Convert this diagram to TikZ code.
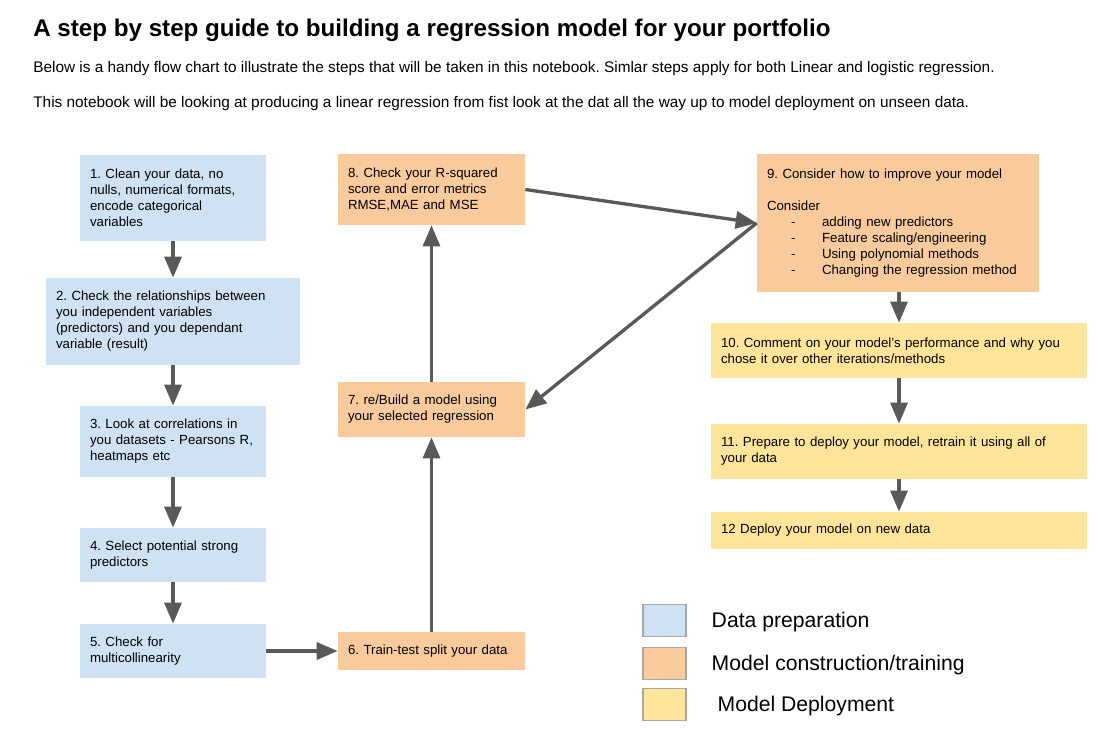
\documentclass[tikz,border=0pt]{standalone}
\usepackage{fontspec}
\setmainfont{Liberation Sans}
\usepackage{tikz}
\usetikzlibrary{arrows.meta,positioning}

\definecolor{prepblue}{HTML}{CFE2F3}
\definecolor{buildorange}{HTML}{F9CB9C}
\definecolor{deployyellow}{HTML}{FFE599}
\definecolor{flowgray}{HTML}{595959}
\newcommand{\improveitem}[1]{\\\hspace*{0.48cm}\makebox[0.62cm][l]{-}#1}
\frenchspacing

\begin{document}
\begin{tikzpicture}[x=0.02cm, y=-0.02cm,
  stepbox/.style = {shape = rectangle, inner xsep = 0.2cm, inner ysep = 0pt, align = left,
    font = \fontsize{7.55}{9.1}\selectfont},
  prepbox/.style = {stepbox, fill = prepblue},
  buildbox/.style = {stepbox, fill = buildorange},
  deploybox/.style = {stepbox, fill = deployyellow},
  flow/.style = {draw = flowgray, line width = 1.9pt, -{Triangle[length = 0.42cm, width = 0.34cm]}},
  keybox/.style = {draw = gray!70, line width = 0.6pt, minimum width = 0.86cm, minimum height = 0.64cm},
  keytext/.style = {anchor = west, yshift = -0.04cm, font = \fontsize{12.05}{14}\selectfont}]
\useasboundingbox (0,0) rectangle (1101,739);

% heading
\node[anchor = base west, inner sep = 0pt, font = \bfseries\fontsize{13.75}{16}\selectfont] (title) at (33,37)
  {A step by step guide to building a regression model for your portfolio};
\node[anchor = base west, inner sep = 0pt, font = \fontsize{8.75}{10}\selectfont] (intro1) at (33,73)
  {Below is a handy flow chart to illustrate the steps that will be taken in this notebook. Simlar steps apply for both Linear and logistic regression.};
\node[anchor = base west, inner sep = 0pt, font = \fontsize{8.75}{10}\selectfont] (intro2) at (33,108)
  {This notebook will be looking at producing a linear regression from fist look at the dat all the way up to model deployment on unseen data.};

% data preparation
\node[prepbox, minimum width = 3.72cm, minimum height = 1.72cm, text width = 3.32cm] (s1) at (173,198)
  {1. Clean your data, no\\nulls, numerical formats,\\encode categorical\\variables};
\node[prepbox, minimum width = 5.08cm, minimum height = 1.74cm, text width = 4.68cm] (s2) at (173,321.5)
  {2. Check the relationships between\\you independent variables\\(predictors) and you dependant\\variable (result)};
\node[prepbox, minimum width = 3.72cm, minimum height = 1.42cm, text width = 3.32cm] (s3) at (173,441.5)
  {3. Look at correlations in\\you datasets - Pearsons R,\\heatmaps etc};
\node[prepbox, minimum width = 3.72cm, minimum height = 1.08cm, text width = 3.32cm] (s4) at (173,555)
  {4. Select potential strong\\predictors};
\node[prepbox, minimum width = 3.72cm, minimum height = 1.08cm, text width = 3.32cm] (s5) at (173,651)
  {5. Check for\\multicollinearity};

% model construction
\node[buildbox, minimum width = 3.74cm, minimum height = 0.76cm, text width = 3.34cm] (s6) at (431.5,651)
  {6. Train-test split your data};
\node[buildbox, minimum width = 3.74cm, minimum height = 1.1cm, text width = 3.34cm] (s7) at (431.5,409.5)
  {7. re/Build a model using\\your selected regression};
\node[buildbox, minimum width = 3.74cm, minimum height = 1.42cm, text width = 3.34cm] (s8) at (431.5,189.5)
  {8. Check your R-squared\\score and error metrics\\RMSE,MAE and MSE};
\node[buildbox, minimum width = 5.64cm, minimum height = 2.76cm, text width = 5.24cm] (s9) at (898,223)
  {9. Consider how to improve your model\\[9.1pt]Consider
   \improveitem{adding new predictors}
   \improveitem{Feature scaling/engineering}
   \improveitem{Using polynomial methods}
   \improveitem{Changing the regression method}};

% deployment
\node[deploybox, minimum width = 7.52cm, minimum height = 1.1cm, text width = 7.12cm] (s10) at (899,350.5)
  {10. Comment on your model's performance and why you\\chose it over other iterations/methods};
\node[deploybox, minimum width = 7.52cm, minimum height = 1.1cm, text width = 7.12cm] (s11) at (899,451.5)
  {11. Prepare to deploy your model, retrain it using all of\\your data};
\node[deploybox, minimum width = 7.52cm, minimum height = 0.74cm, text width = 7.12cm] (s12) at (899,530.5)
  {12 Deploy your model on new data};

% connectors
\draw[flow] (s1) -- (s2);
\draw[flow] (s2) -- (s3);
\draw[flow] (s3) -- (s4);
\draw[flow] (s4) -- (s5);
\draw[flow] (s5) -- (s6);
\draw[flow] (s6) -- (s7);
\draw[flow] (s7) -- (s8);
\draw[flow] (s8.east) -- (s9.west);
\draw[flow] (s9.west) -- (s7.east);
\draw[flow] (s9.south -| s10.north) -- (s10.north);
\draw[flow] (s10) -- (s11);
\draw[flow] (s11) -- (s12);

% legend
\node[keybox, fill = prepblue] (keyprep) at (664.5,620.5) {};
\node[keybox, fill = buildorange] (keybuild) at (664.5,663.5) {};
\node[keybox, fill = deployyellow] (keydeploy) at (664.5,704.5) {};
\node[keytext, right = 0.38cm of keyprep] (keyprep text) {Data preparation};
\node[keytext, right = 0.38cm of keybuild] (keybuild text) {Model construction/training};
\node[keytext, right = 0.38cm of keydeploy] (keydeploy text) {\ Model Deployment};
\end{tikzpicture}
\end{document}
